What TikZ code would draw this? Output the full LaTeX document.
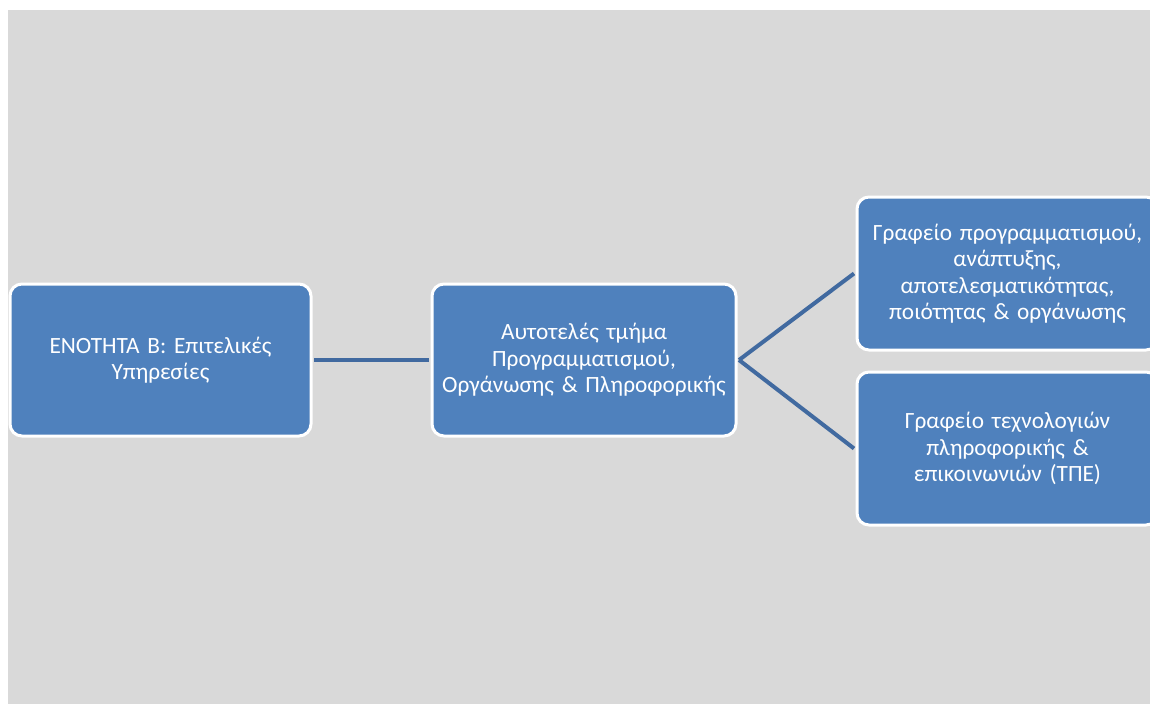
\documentclass[tikz,border=0pt]{standalone}
\usepackage{fontspec}
\setmainfont{Carlito}
\definecolor{bgray}{RGB}{217,217,217}
\definecolor{boxblue}{RGB}{79,129,189}
\definecolor{linkblue}{RGB}{65,106,160}
\begin{document}
\begin{tikzpicture}[x=1pt,y=-1pt,
  box/.style={rectangle, rounded corners=12pt, fill=boxblue, draw=white, line width=3pt,
    minimum height=152pt, text=white, align=center, inner sep=4pt,
    font=\fontsize{23.3}{26.5}\selectfont},
  link/.style={draw=linkblue, line width=4pt}]
\useasboundingbox (0,0) rectangle (1150,704);
\clip (0,0) rectangle (1150,704);
\fill[white] (0,0) rectangle (1150,704);
\fill[bgray] (8,10) rectangle (1150,704);
\node[box, minimum width=301pt, text width=290pt] (a) at (160.5,360) {ΕΝΟΤΗΤΑ Β: Επιτελικές\\Υπηρεσίες};
\node[box, minimum width=304pt, text width=296pt] (b) at (584,360) {Αυτοτελές τμήμα\\Προγραμματισμού,\\Οργάνωσης \& Πληροφορικής};
\node[box, minimum width=301pt, minimum height=153pt, text width=293pt] (c) at (1007.5,273.5) {Γραφείο προγραμματισμού,\\ανάπτυξης,\\αποτελεσματικότητας,\\ποιότητας \& οργάνωσης};
\node[box, minimum width=301pt, minimum height=153pt, text width=293pt] (d) at (1007.5,448.5) {Γραφείο τεχνολογιών\\πληροφορικής \&\\επικοινωνιών (ΤΠΕ)};
\coordinate (ae) at ([xshift=1.5pt]a.east);
\coordinate (bw) at ([xshift=-1.5pt]b.west);
\coordinate (be) at ([xshift=1.5pt]b.east);
\coordinate (cw) at ([xshift=-1.5pt]c.west);
\coordinate (dw) at ([xshift=-1.5pt]d.west);
\draw[link] (ae) -- (bw);
\draw[link] (be) -- (cw);
\draw[link] (be) -- (dw);
\end{tikzpicture}
\end{document}
